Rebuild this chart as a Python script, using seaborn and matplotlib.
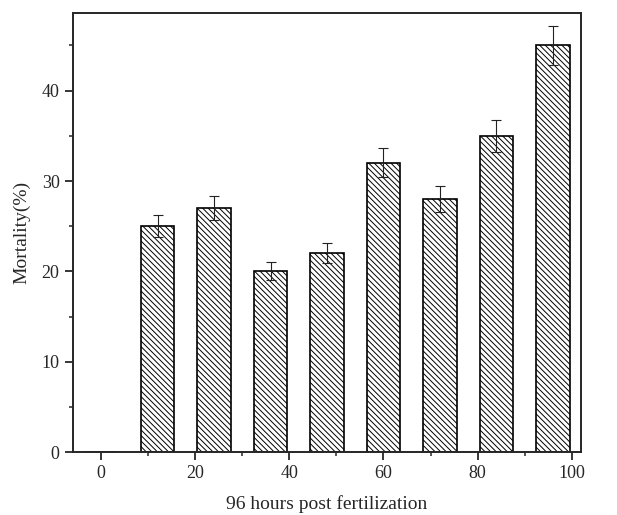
import matplotlib
matplotlib.use("Agg")
import pandas as pd
import seaborn as sns
from matplotlib import pyplot as plt
from matplotlib.ticker import MultipleLocator

# values
hours = [0, 12, 24, 36, 48, 60, 72, 84, 96]
mortality = [0, 25, 27, 20, 22, 32, 28, 35, 45]
err = [0, 1.2, 1.3, 1.0, 1.1, 1.6, 1.4, 1.8, 2.2]

df = pd.DataFrame({"hours": hours, "mortality": mortality})

sns.set_style("ticks")
plt.rcParams["font.family"] = ["Liberation Serif", "DejaVu Serif"]
plt.rcParams["hatch.linewidth"] = 0.7
plt.rcParams["hatch.color"] = "black"

fig = plt.figure(figsize=(6.17, 5.15), dpi=100)
ax = fig.add_axes([0.118, 0.122, 0.824, 0.853])

sns.barplot(data=df, x="hours", y="mortality", native_scale=True, width=0.6,
            color="white", edgecolor="black", linewidth=1.2, hatch="\\\\\\\\\\\\",
            errorbar=None, ax=ax)
ax.errorbar(hours[1:], mortality[1:], yerr=err[1:], fmt="none", ecolor="#222222",
            elinewidth=0.8, capsize=3.3, capthick=0.8)

ax.set_xlim(-6, 102)
ax.set_ylim(0, 48.6)
ax.xaxis.set_major_locator(MultipleLocator(20))
ax.xaxis.set_minor_locator(MultipleLocator(10))
ax.yaxis.set_major_locator(MultipleLocator(10))
ax.yaxis.set_minor_locator(MultipleLocator(5))
ax.tick_params(which="major", length=6, width=1.3, labelsize=13, direction="out")
ax.tick_params(which="minor", length=3, width=1.1, direction="out")
for s in ax.spines.values():
    s.set_linewidth(1.4)
    s.set_visible(True)

ax.set_xlabel("96 hours post fertilization", fontsize=14, labelpad=9)
ax.set_ylabel("Mortality(%)", fontsize=14, labelpad=8)

fig.savefig("out.png", dpi=100)
